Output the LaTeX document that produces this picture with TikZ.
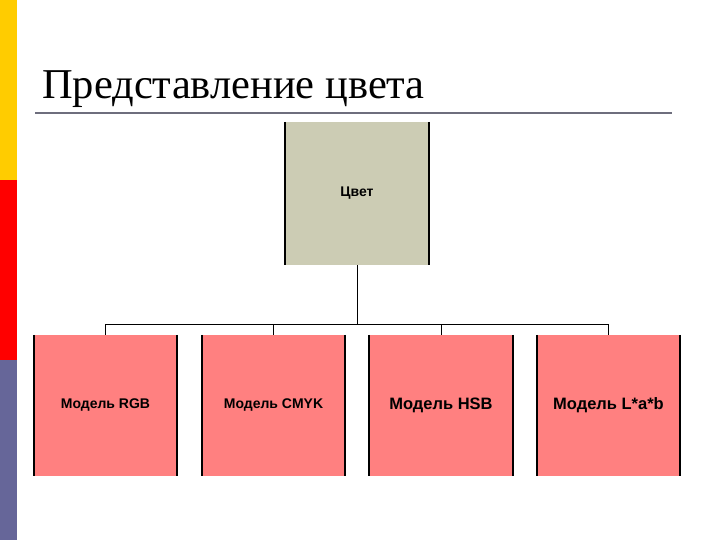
\documentclass[tikz,border=0pt]{standalone}
\usepackage{fontspec}
\setmainfont{Liberation Serif}
\newfontfamily\boxfont{Liberation Sans}
\definecolor{stripeY}{RGB}{255,204,0}
\definecolor{stripeR}{RGB}{255,0,0}
\definecolor{stripeP}{RGB}{102,102,153}
\definecolor{topfill}{RGB}{204,204,180}
\definecolor{botfill}{RGB}{255,128,128}
\definecolor{rulecol}{RGB}{110,110,125}
\tikzset{
  topbox/.style={fill=topfill, minimum width=144pt, minimum height=143pt, inner sep=0pt, font=\boxfont\bfseries\fontsize{14}{16}\selectfont},
  botbox/.style={fill=botfill, minimum width=143pt, minimum height=141pt, inner sep=0pt},
  sideedge/.style={line width=2.2pt, black},
  conn/.style={line width=1pt, black},
}
\begin{document}
\begin{tikzpicture}[x=1pt,y=1pt]
\useasboundingbox (0,0) rectangle (720,540);
\fill[white] (0,0) rectangle (720,540);
\fill[stripeY] (0,360) rectangle (17,540);
\fill[stripeR] (0,180) rectangle (17,360);
\fill[stripeP] (0,0) rectangle (17,180);
\node[anchor=base west, inner sep=0pt, font=\fontsize{42.5}{46}\selectfont] (title) at (42,441) {Представление цвета};
\draw[rulecol, line width=2.5pt] (35,427) -- (672,427);
\node[topbox] (top) at (357,346.5) {Цвет};
\node[botbox, font=\boxfont\bfseries\fontsize{14}{16}\selectfont] (b1) at (105.5,134.5) {Модель RGB};
\node[botbox, font=\boxfont\bfseries\fontsize{14}{16}\selectfont] (b2) at (273.5,134.5) {Модель CMYK};
\node[botbox, font=\boxfont\bfseries\fontsize{16.5}{19}\selectfont] (b3) at (441,134.5) {Модель HSB};
\node[botbox, font=\boxfont\bfseries\fontsize{16.5}{19}\selectfont] (b4) at (608.5,134.5) {Модель L*a*b};
\foreach \n in {top,b1,b2,b3,b4}{
  \draw[sideedge] (\n.north west) -- (\n.south west);
  \draw[sideedge] (\n.north east) -- (\n.south east);
}
\coordinate (j) at (357,215);
\draw[conn] (top.south) -- (j);
\draw[conn] (b1.north) -- (b1.north |- j) -- (b4.north |- j) -- (b4.north);
\draw[conn] (b2.north) -- (b2.north |- j);
\draw[conn] (b3.north) -- (b3.north |- j);
\end{tikzpicture}
\end{document}
